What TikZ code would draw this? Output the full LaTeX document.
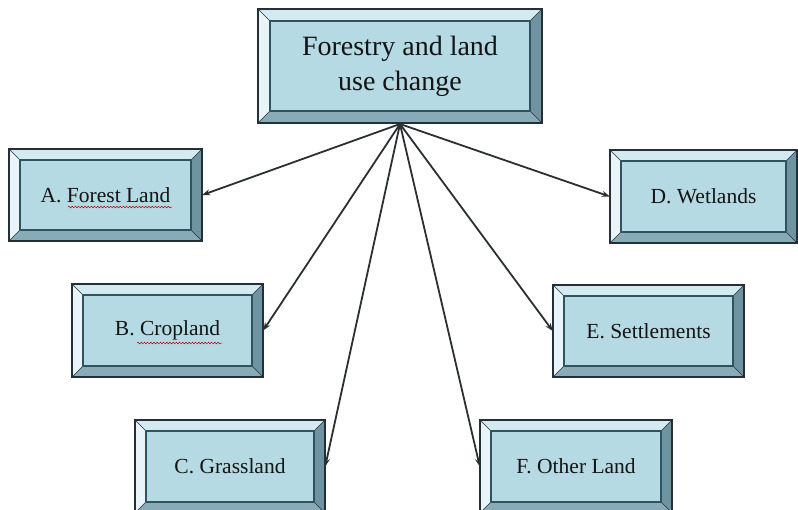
\documentclass[tikz,border=0pt]{standalone}
\usepackage{fontspec}
\setmainfont{Liberation Serif}
\usetikzlibrary{arrows.meta,decorations.pathmorphing}

\definecolor{bvface}{HTML}{B6DAE3}
\definecolor{bvtop}{HTML}{D3EAF0}
\definecolor{bvleft}{HTML}{E8F4F7}
\definecolor{bvright}{HTML}{6F94A1}
\definecolor{bvbottom}{HTML}{89ABB7}
\definecolor{bvline}{HTML}{243036}
\definecolor{bvinner}{HTML}{2E5460}
\definecolor{linkcol}{HTML}{2C2F31}

\tikzset{
  link/.style={line width=1.8pt, draw=linkcol, -{Stealth[length=8pt,width=6pt]}},
  squig/.style={draw=red!70!black, line width=0.5pt,
    decorate, decoration={snake, amplitude=0.8pt, segment length=3.2pt}},
  boxtext/.style={font=\fontsize{21.5}{26}\selectfont, text=black!92},
}

% Bevelled box: #1 name, #2 x1, #3 y1, #4 x2, #5 y2, #6 bevel width, #7 text, #8 text style
\newcommand\bevbox[8]{%
  \fill[bvtop]    (#2,#3) -- (#4,#3) -- ({#4-#6},{#3+#6}) -- ({#2+#6},{#3+#6}) -- cycle;
  \fill[bvleft]   (#2,#3) -- ({#2+#6},{#3+#6}) -- ({#2+#6},{#5-#6}) -- (#2,#5) -- cycle;
  \fill[bvright]  (#4,#3) -- (#4,#5) -- ({#4-#6},{#5-#6}) -- ({#4-#6},{#3+#6}) -- cycle;
  \fill[bvbottom] (#2,#5) -- (#4,#5) -- ({#4-#6},{#5-#6}) -- ({#2+#6},{#5-#6}) -- cycle;
  \fill[bvface]   ({#2+#6},{#3+#6}) rectangle ({#4-#6},{#5-#6});
  \draw[bvline, line width=0.5pt] (#2,#3) -- ({#2+#6},{#3+#6})
        (#4,#3) -- ({#4-#6},{#3+#6}) (#2,#5) -- ({#2+#6},{#5-#6}) (#4,#5) -- ({#4-#6},{#5-#6});
  \draw[bvinner, line width=1.3pt] ({#2+#6},{#3+#6}) rectangle ({#4-#6},{#5-#6});
  \draw[bvline, line width=1.6pt] (#2,#3) rectangle (#4,#5);
  \node[inner sep=0pt, minimum width={(#4-#2)*1pt}, minimum height={(#5-#3)*1pt}, #8]
    (#1) at ({(#2+#4)/2},{(#3+#5)/2}) {#7};%
}

\begin{document}
\begin{tikzpicture}[x=1pt, y=-1pt]
  \useasboundingbox (0,0) rectangle (798,509);
  \fill[white] (0,0) rectangle (798,509);

  \bevbox{top}{258}{9}{542}{123}{12}{Forestry and land\\use change}
    {align=center, font=\fontsize{28}{35}\selectfont, text=black!92}
  \bevbox{forest}{9}{149}{202}{241}{11}{A. Forest Land}{boxtext}
  \bevbox{crop}{72}{284}{263}{377}{11}{B. Cropland}{boxtext}
  \bevbox{grass}{135}{420}{325}{513}{11}{C. Grassland}{boxtext}
  \bevbox{wet}{610}{150}{797}{243}{11}{D. Wetlands}{boxtext}
  \bevbox{settle}{553}{285}{744}{377}{11}{E. Settlements}{boxtext}
  \bevbox{other}{480}{420}{672}{513}{11}{F. Other Land}{boxtext}

  % spell-check underlines
  \draw[squig] (68,207) -- (172,207);
  \draw[squig] (137,343) -- (222,343);

  \coordinate (hub) at (400,124);
  \draw[link] (hub) -- (forest.east);
  \draw[link] (hub) -- (crop.east);
  \draw[link] (hub) -- (grass.east);
  \draw[link] (hub) -- (wet.west);
  \draw[link] (hub) -- (settle.west);
  \draw[link] (hub) -- (other.west);
\end{tikzpicture}
\end{document}
